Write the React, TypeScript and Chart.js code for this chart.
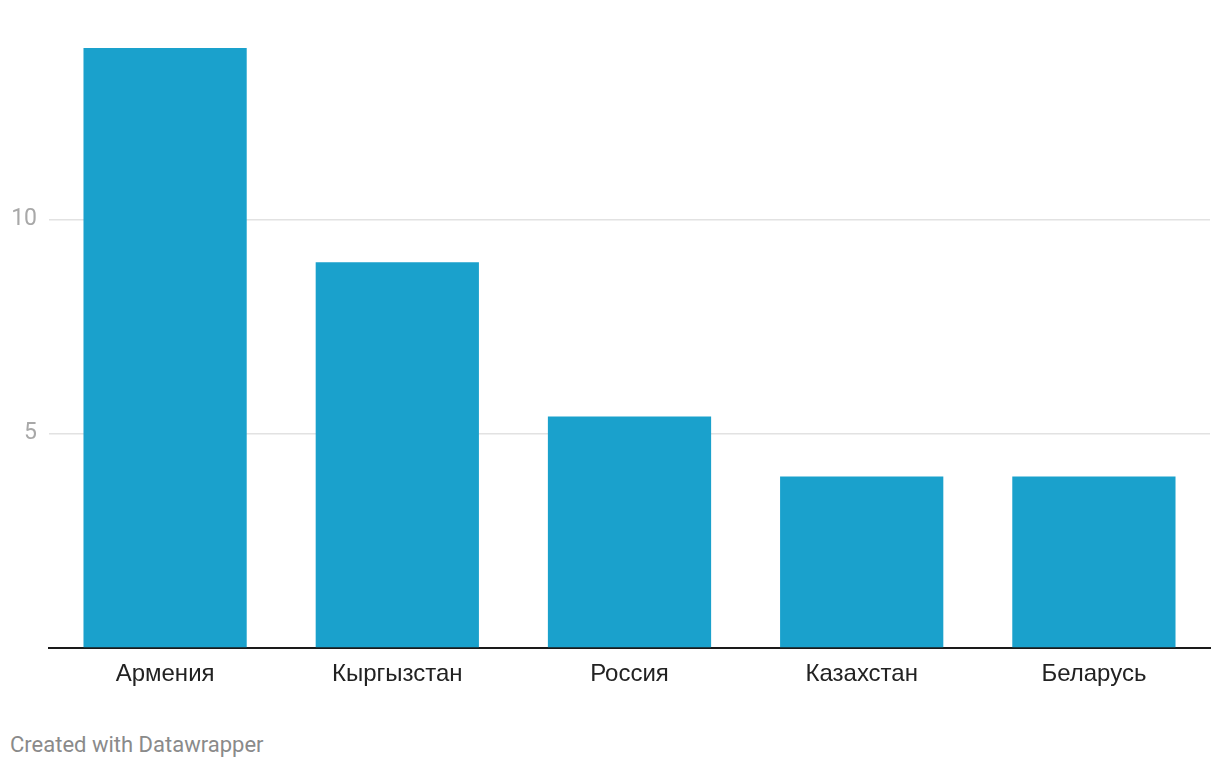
import React, { useEffect, useRef } from "react";
import { Chart, registerables } from "chart.js";

Chart.register(...registerables);

const categories = ["Армения", "Кыргызстан", "Россия", "Казахстан", "Беларусь"];
const values = [14, 9, 5.4, 4, 4];
const yTicks = [0, 5, 10];
const barColor = "#1aa1cc";

export default function App() {
  const ref = useRef<HTMLCanvasElement | null>(null);

  useEffect(() => {
    if (!ref.current) return;
    const chart = new Chart(ref.current, {
      type: "bar",
      data: {
        labels: categories,
        datasets: [
          {
            data: values,
            backgroundColor: barColor,
            borderWidth: 0,
            categoryPercentage: 1,
            barPercentage: 0.703,
          },
        ],
      },
      options: {
        animation: false,
        responsive: false,
        maintainAspectRatio: false,
        layout: { padding: { top: 48, right: 10, left: 0, bottom: 0 } },
        plugins: { legend: { display: false }, tooltip: { enabled: false } },
        scales: {
          x: {
            offset: true,
            grid: { display: false, drawTicks: false },
            border: { display: true, color: "#1a1a1a", width: 2 },
            ticks: {
              color: "#222",
              font: { family: "'Liberation Sans', Arial, sans-serif", size: 24 },
              padding: 12,
              maxRotation: 0,
            },
            afterFit: (s: any) => {
              s.height = 52;
            },
          },
          y: {
            min: 0,
            max: 14,
            afterBuildTicks: (s: any) => {
              s.ticks = yTicks.map((v) => ({ value: v }));
            },
            grid: {
              drawTicks: false,
              color: (ctx: any) => (ctx.tick && ctx.tick.value === 0 ? "rgba(0,0,0,0)" : "#e2e2e2"),
              lineWidth: 1.5,
            },
            border: { display: false },
            ticks: {
              color: "#a8a8a8",
              font: { family: "Roboto, sans-serif", size: 23 },
              padding: 12,
              callback: (v: any) => (v === 0 ? "" : String(v)),
            },
            afterFit: (s: any) => {
              s.width = 49;
            },
          },
        },
      },
    });
    return () => chart.destroy();
  }, []);

  return (
    <div style={{ position: "absolute", left: 0, top: 0, width: 1220, height: 768, background: "#fff" }}>
      <canvas ref={ref} width={1220} height={700} style={{ position: "absolute", left: 0, top: 0, width: 1220, height: 700 }} />
      <div
        style={{
          position: "absolute",
          left: 10,
          top: 732,
          fontFamily: "Roboto, sans-serif",
          fontSize: 22,
          lineHeight: "26px",
          color: "#8a8a8a",
          whiteSpace: "nowrap",
        }}
      >
        Created with Datawrapper
      </div>
    </div>
  );
}
